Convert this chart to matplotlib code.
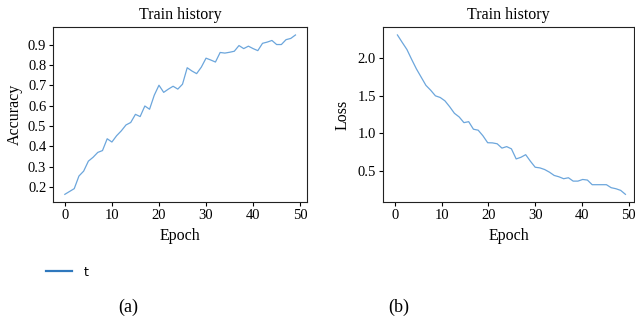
import numpy as np
import matplotlib
matplotlib.use("Agg")
import matplotlib.pyplot as plt
from matplotlib.lines import Line2D

plt.rcParams['font.family'] = ['Liberation Serif', 'DejaVu Serif']

# training accuracy per epoch
acc_epoch = np.arange(50)
accuracy = [0.164, 0.178, 0.192, 0.254, 0.278, 0.327, 0.346, 0.370, 0.379, 0.437,
            0.421, 0.452, 0.476, 0.505, 0.517, 0.557, 0.546, 0.598, 0.582, 0.651,
            0.700, 0.665, 0.681, 0.695, 0.681, 0.705, 0.786, 0.770, 0.757, 0.789,
            0.833, 0.824, 0.814, 0.861, 0.858, 0.862, 0.867, 0.895, 0.880, 0.892,
            0.880, 0.870, 0.906, 0.912, 0.920, 0.900, 0.900, 0.924, 0.930, 0.947]

# training loss per epoch
loss_epoch = np.linspace(0.55, 49.3, 49)
loss = [2.315, 2.216, 2.120, 1.987, 1.860, 1.750, 1.640, 1.575, 1.500, 1.478,
        1.433, 1.354, 1.266, 1.217, 1.141, 1.154, 1.053, 1.040, 0.965, 0.872,
        0.870, 0.858, 0.800, 0.820, 0.790, 0.655, 0.677, 0.712, 0.624, 0.544,
        0.535, 0.513, 0.478, 0.434, 0.416, 0.390, 0.403, 0.358, 0.358, 0.380,
        0.372, 0.310, 0.310, 0.310, 0.310, 0.270, 0.256, 0.234, 0.181]

line_color = '#6ca6dc'
legend_color = '#2f78bd'

fig = plt.figure(figsize=(6.35, 3.23), dpi=100)
ax1 = fig.add_axes([53.3 / 635, 1 - 202.3 / 323, 253.7 / 635, 175.3 / 323])
ax2 = fig.add_axes([382.7 / 635, 1 - 202.3 / 323, 251.6 / 635, 175.3 / 323])

ax1.plot(acc_epoch, accuracy, color=line_color, lw=0.9)
ax1.set_ylabel('Accuracy', fontsize=11.5, labelpad=4)
ax1.set_yticks([0.2, 0.3, 0.4, 0.5, 0.6, 0.7, 0.8, 0.9])

ax2.plot(loss_epoch, loss, color=line_color, lw=0.9)
ax2.set_ylabel('Loss', fontsize=11.5, labelpad=5)
ax2.set_xlim(-2.6, 51.2)
ax2.set_yticks([0.5, 1.0, 1.5, 2.0])

for ax in (ax1, ax2):
    ax.set_title('Train history', fontsize=11.5, pad=6)
    ax.set_xlabel('Epoch', fontsize=11.5, labelpad=4)
    ax.set_xticks([0, 10, 20, 30, 40, 50])
    ax.tick_params(labelsize=10.5, length=3, width=0.8, color='black', pad=2)
    for s in ax.spines.values():
        s.set_color('#222222')
        s.set_linewidth(0.8)

fig.legend(handles=[Line2D([], [], color=legend_color, lw=1.6)], labels=['t'],
           loc='center left', bbox_to_anchor=(0.055, 1 - 272 / 323), frameon=False,
           handlelength=2.1, handletextpad=0.9,
           prop={'family': 'DejaVu Sans', 'size': 9})

fig.text(128 / 635, 1 - 307 / 323, '(a)', ha='center', va='center', fontsize=13)
fig.text(399 / 635, 1 - 307 / 323, '(b)', ha='center', va='center', fontsize=13)

fig.savefig('out.png', dpi=100)
